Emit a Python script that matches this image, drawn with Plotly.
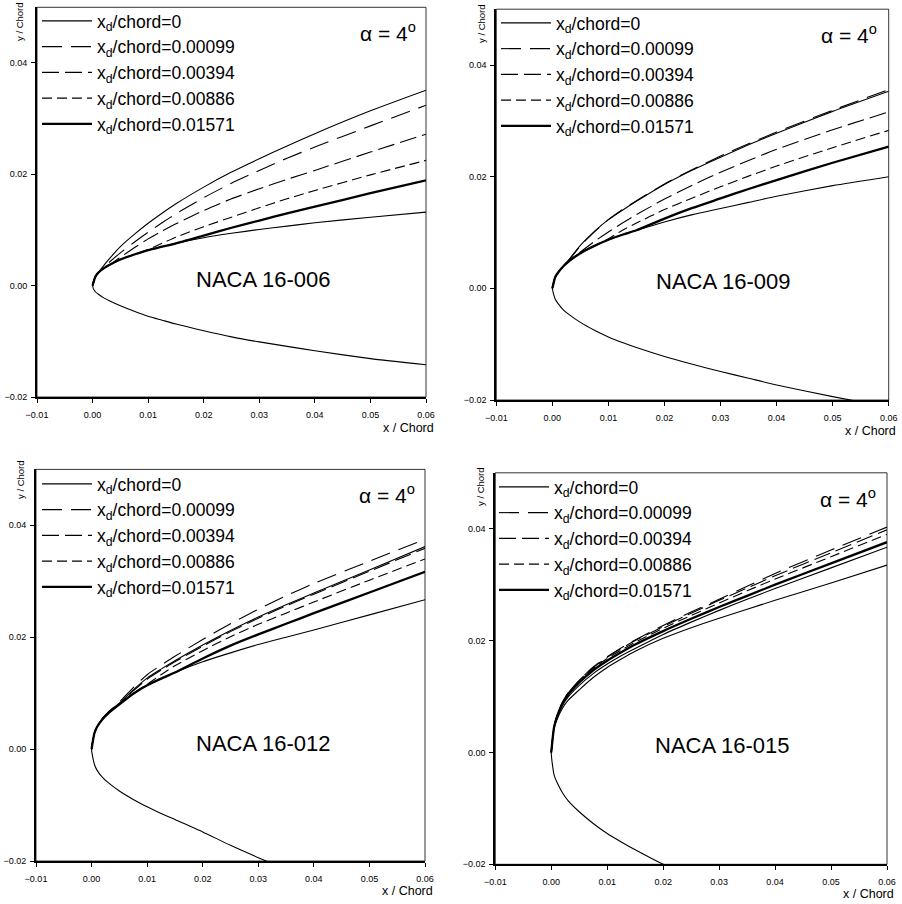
import plotly.graph_objects as go

# ---------------- data ----------------
XD_LABELS = ["x<sub>d</sub>/chord=0", "x<sub>d</sub>/chord=0.00099", "x<sub>d</sub>/chord=0.00394",
             "x<sub>d</sub>/chord=0.00886", "x<sub>d</sub>/chord=0.01571"]
AIRFOILS = ["NACA 16-006", "NACA 16-009", "NACA 16-012", "NACA 16-015"]
ALPHA_TEXT = "α = 4<sup>o</sup>"
X_TICKS = [-0.01, 0.0, 0.01, 0.02, 0.03, 0.04, 0.05, 0.06]
Y_TICKS = [-0.02, 0.0, 0.02, 0.04]

# common x stations for upper/lower surfaces
x_st = [0, 0.0005, 0.001, 0.002, 0.003, 0.005, 0.0075, 0.01, 0.0125, 0.015, 0.02, 0.025, 0.03, 0.035, 0.04, 0.05, 0.06]

# NACA 16-006
n006_base_y = [0, 0.0016, 0.0023, 0.0031, 0.0037, 0.0047, 0.0056, 0.0064, 0.0070, 0.0076, 0.0086, 0.0094, 0.0101, 0.0107, 0.0113, 0.0123, 0.0132]
n006_lower_y = [0, -0.0011, -0.0015, -0.0022, -0.0027, -0.0036, -0.0046, -0.0055, -0.0062, -0.0069, -0.0081, -0.0092, -0.0101, -0.0109, -0.0117, -0.0131, -0.0142]
n006_xd0_y = [0, 0.0016, 0.0023, 0.0036, 0.0048, 0.0070, 0.0092, 0.0112, 0.0130, 0.0147, 0.0177, 0.0204, 0.0228, 0.0251, 0.0273, 0.0314, 0.0351]
n006_xd1_y = [0, 0.0016, 0.0023, 0.0033, 0.0042, 0.0059, 0.0078, 0.0096, 0.0113, 0.0129, 0.0158, 0.0184, 0.0207, 0.0229, 0.0249, 0.0287, 0.0324]
n006_xd2_y = [0, 0.0016, 0.0023, 0.0031, 0.0037, 0.0051, 0.0068, 0.0084, 0.0098, 0.0111, 0.0135, 0.0156, 0.0174, 0.0191, 0.0207, 0.0240, 0.0272]
n006_xd3_y = [0, 0.0016, 0.0023, 0.0031, 0.0037, 0.0047, 0.0056, 0.0065, 0.0076, 0.0087, 0.0106, 0.0123, 0.0140, 0.0156, 0.0171, 0.0199, 0.0225]
n006_xd4_y = [0, 0.0016, 0.0023, 0.0031, 0.0037, 0.0047, 0.0056, 0.0064, 0.0070, 0.0076, 0.0090, 0.0104, 0.0117, 0.0130, 0.0142, 0.0166, 0.0189]

# NACA 16-009
n009_base_y = [0, 0.0020, 0.0028, 0.0040, 0.0049, 0.0063, 0.0076, 0.0087, 0.0096, 0.0104, 0.0119, 0.0132, 0.0143, 0.0154, 0.0165, 0.0184, 0.0200]
n009_lower_y = [0, -0.0019, -0.0027, -0.0039, -0.0047, -0.0061, -0.0075, -0.0087, -0.0097, -0.0106, -0.0122, -0.0136, -0.0149, -0.0161, -0.0173, -0.0194, -0.0213]
n009_xd0_y = [0, 0.0020, 0.0028, 0.0040, 0.0052, 0.0077, 0.0102, 0.0123, 0.0140, 0.0156, 0.0186, 0.0212, 0.0235, 0.0257, 0.0278, 0.0317, 0.0353]
n009_xd1_y = [0, 0.0020, 0.0028, 0.0040, 0.0051, 0.0076, 0.0101, 0.0123, 0.0141, 0.0157, 0.0187, 0.0213, 0.0237, 0.0259, 0.0280, 0.0319, 0.0356]
n009_xd2_y = [0, 0.0020, 0.0028, 0.0040, 0.0049, 0.0065, 0.0084, 0.0101, 0.0117, 0.0132, 0.0160, 0.0185, 0.0208, 0.0229, 0.0249, 0.0284, 0.0316]
n009_xd3_y = [0, 0.0020, 0.0028, 0.0040, 0.0049, 0.0063, 0.0076, 0.0089, 0.0104, 0.0117, 0.0141, 0.0162, 0.0182, 0.0201, 0.0219, 0.0252, 0.0283]
n009_xd4_y = [0, 0.0020, 0.0028, 0.0040, 0.0049, 0.0063, 0.0076, 0.0087, 0.0096, 0.0104, 0.0125, 0.0144, 0.0161, 0.0178, 0.0194, 0.0225, 0.0254]

# NACA 16-012
n012_base_y = [0, 0.0028, 0.0040, 0.0054, 0.0064, 0.0080, 0.0099, 0.0114, 0.0126, 0.0137, 0.0156, 0.0172, 0.0187, 0.0200, 0.0213, 0.0240, 0.0267]
n012_lower_y = [0, -0.0027, -0.0038, -0.0051, -0.0060, -0.0075, -0.0090, -0.0103, -0.0115, -0.0126, -0.0148, -0.0172, -0.0194, -0.0215, -0.0235, -0.0268, -0.0300]
n012_xd0_y = [0, 0.0028, 0.0040, 0.0055, 0.0066, 0.0082, 0.0106, 0.0127, 0.0143, 0.0158, 0.0186, 0.0212, 0.0236, 0.0258, 0.0279, 0.0320, 0.0362]
n012_xd1_y = [0, 0.0028, 0.0040, 0.0055, 0.0066, 0.0084, 0.0110, 0.0133, 0.0150, 0.0166, 0.0196, 0.0224, 0.0250, 0.0274, 0.0296, 0.0336, 0.0375]
n012_xd2_y = [0, 0.0028, 0.0040, 0.0055, 0.0065, 0.0081, 0.0104, 0.0125, 0.0141, 0.0156, 0.0184, 0.0210, 0.0234, 0.0256, 0.0277, 0.0318, 0.0359]
n012_xd3_y = [0, 0.0028, 0.0040, 0.0054, 0.0064, 0.0080, 0.0099, 0.0116, 0.0133, 0.0149, 0.0176, 0.0201, 0.0223, 0.0243, 0.0263, 0.0302, 0.0340]
n012_xd4_y = [0, 0.0028, 0.0040, 0.0054, 0.0064, 0.0080, 0.0099, 0.0114, 0.0126, 0.0137, 0.0162, 0.0185, 0.0205, 0.0224, 0.0243, 0.0280, 0.0317]

# NACA 16-015
n015_base_y = [0, 0.0043, 0.0058, 0.0079, 0.0093, 0.0112, 0.0134, 0.0152, 0.0167, 0.0181, 0.0204, 0.0223, 0.0240, 0.0256, 0.0272, 0.0303, 0.0335]
n015_lower_y = [0, -0.0040, -0.0053, -0.0072, -0.0086, -0.0106, -0.0127, -0.0145, -0.0160, -0.0174, -0.0200, -0.0222, -0.0241, -0.0259, -0.0276, -0.0307, -0.0336]
n015_xd0_y = [0, 0.0044, 0.0061, 0.0084, 0.0099, 0.0120, 0.0141, 0.0158, 0.0173, 0.0186, 0.0211, 0.0233, 0.0254, 0.0274, 0.0293, 0.0330, 0.0367]
n015_xd1_y = [0, 0.0046, 0.0065, 0.0090, 0.0106, 0.0129, 0.0153, 0.0171, 0.0187, 0.0201, 0.0227, 0.0251, 0.0274, 0.0297, 0.0320, 0.0362, 0.0403]
n015_xd2_y = [0, 0.0046, 0.0065, 0.0090, 0.0106, 0.0129, 0.0152, 0.0170, 0.0186, 0.0200, 0.0225, 0.0249, 0.0272, 0.0294, 0.0316, 0.0357, 0.0398]
n015_xd3_y = [0, 0.0046, 0.0064, 0.0089, 0.0105, 0.0128, 0.0150, 0.0168, 0.0183, 0.0197, 0.0222, 0.0245, 0.0267, 0.0289, 0.0310, 0.0350, 0.0390]
n015_xd4_y = [0, 0.0045, 0.0063, 0.0087, 0.0103, 0.0125, 0.0147, 0.0164, 0.0179, 0.0193, 0.0217, 0.0239, 0.0260, 0.0280, 0.0300, 0.0338, 0.0376]

PANELS = [
    (n006_base_y, n006_lower_y, [n006_xd0_y, n006_xd1_y, n006_xd2_y, n006_xd3_y, n006_xd4_y]),
    (n009_base_y, n009_lower_y, [n009_xd0_y, n009_xd1_y, n009_xd2_y, n009_xd3_y, n009_xd4_y]),
    (n012_base_y, n012_lower_y, [n012_xd0_y, n012_xd1_y, n012_xd2_y, n012_xd3_y, n012_xd4_y]),
    (n015_base_y, n015_lower_y, [n015_xd0_y, n015_xd1_y, n015_xd2_y, n015_xd3_y, n015_xd4_y]),
]

# ---------------- styling / layout ----------------
W, H = 902, 904
FONT = "Liberation Sans, Arial, Helvetica, sans-serif"
DASHES = ["solid", "20px,9px", "17px,6px", "10px,5px", "solid"]
WIDTHS = [1.1, 1.1, 1.1, 1.1, 2.3]

# panel pixel boxes: (left x=-0.01, right x=0.06, top y=0.05, bottom y=-0.02)
BOXES = [(37, 426, 7.3, 397), (496.3, 888.7, 9.2, 400), (36, 425, 469.4, 861), (495.3, 887, 472.8, 864.3)]
LEG_POS = [(37, 3), (496, 5), (37, 466), (494, 469)]
ALPHA_POS = [(388, 32), (849, 34), (387, 494), (848, 498)]
NAME_POS = [(263, 279), (723.7, 281.7), (263.3, 743.7), (722, 745.3)]
YLAB_POS = [(20, 22), (481, 23), (20, 480), (480, 486)]
XLAB_POS = [(408, 428), (870, 431), (407, 891), (868.7, 893.7)]


def px2x(p):
    return p / W


def px2y(p):
    return 1 - p / H


def label(text, pos, size, angle=0):
    return dict(text=text, x=px2x(pos[0]), y=px2y(pos[1]), xref="paper", yref="paper",
                xanchor="center", yanchor="middle", showarrow=False, textangle=angle,
                font=dict(size=size, family=FONT, color="black"))


fig = go.Figure()
layout = dict(
    width=W, height=H, margin=dict(l=0, r=0, t=0, b=0, pad=0),
    paper_bgcolor="white", plot_bgcolor="white",
    font=dict(family=FONT, color="black"),
    annotations=[], shapes=[],
)

for i, (base_y, lower_y, xd_ys) in enumerate(PANELS):
    sfx = "" if i == 0 else str(i + 1)
    xa, ya = "x" + sfx, "y" + sfx
    leg = "legend" if i == 0 else "legend" + str(i + 1)

    # base airfoil: lower surface (reversed) joined to upper surface
    bx = list(reversed(x_st)) + x_st[1:]
    by = list(reversed(lower_y)) + base_y[1:]
    fig.add_trace(go.Scatter(x=bx, y=by, mode="lines", xaxis=xa, yaxis=ya,
                             line=dict(color="black", width=1.1, shape="spline", smoothing=0.6),
                             showlegend=False, hoverinfo="skip"))
    for k, yy in enumerate(xd_ys):
        fig.add_trace(go.Scatter(x=x_st, y=yy, mode="lines", xaxis=xa, yaxis=ya,
                                 name=XD_LABELS[k], legend=leg,
                                 line=dict(color="black", width=WIDTHS[k], dash=DASHES[k],
                                           shape="spline", smoothing=0.6)))

    l, r, t, b = BOXES[i]
    axcommon = dict(showgrid=False, zeroline=False, showline=True, linecolor="black",
                    linewidth=1.8, ticks="outside", ticklen=4, tickwidth=1, tickcolor="black",
                    tickfont=dict(size=9, family=FONT, color="black"), tickformat=".2f",
                    automargin=False)
    layout["xaxis" + sfx] = dict(axcommon, domain=[px2x(l), px2x(r)], range=[-0.01, 0.06],
                                 tickvals=X_TICKS, anchor=ya, ticklabelstandoff=4)
    layout["yaxis" + sfx] = dict(axcommon, domain=[px2y(b), px2y(t)], range=[-0.02, 0.05],
                                 tickvals=Y_TICKS, anchor=xa, ticklabelstandoff=2)
    # thin frame
    layout["shapes"].append(dict(type="rect", xref=xa + " domain", yref=ya + " domain",
                                 x0=0, x1=1, y0=0, y1=1, line=dict(color="black", width=0.8),
                                 layer="above"))
    lx_, ly_ = LEG_POS[i]
    layout[leg] = dict(x=px2x(lx_), y=px2y(ly_), xanchor="left", yanchor="top",
                       bgcolor="rgba(0,0,0,0)", borderwidth=0, itemwidth=50,
                       font=dict(size=17.5, family=FONT, color="black"), tracegroupgap=0)
    layout["annotations"].append(label(ALPHA_TEXT, ALPHA_POS[i], 21))
    layout["annotations"].append(label(AIRFOILS[i], NAME_POS[i], 22))
    layout["annotations"].append(label("y / Chord", YLAB_POS[i], 9.5, angle=-90))
    layout["annotations"].append(label("x / Chord", XLAB_POS[i], 12.5))

fig.update_layout(**layout)
# the page body has a default 8px margin; remove it so the figure fills the window exactly
fig.write_html("out.html", config={"displayModeBar": False},
               post_script="document.body.style.margin='0px';")
